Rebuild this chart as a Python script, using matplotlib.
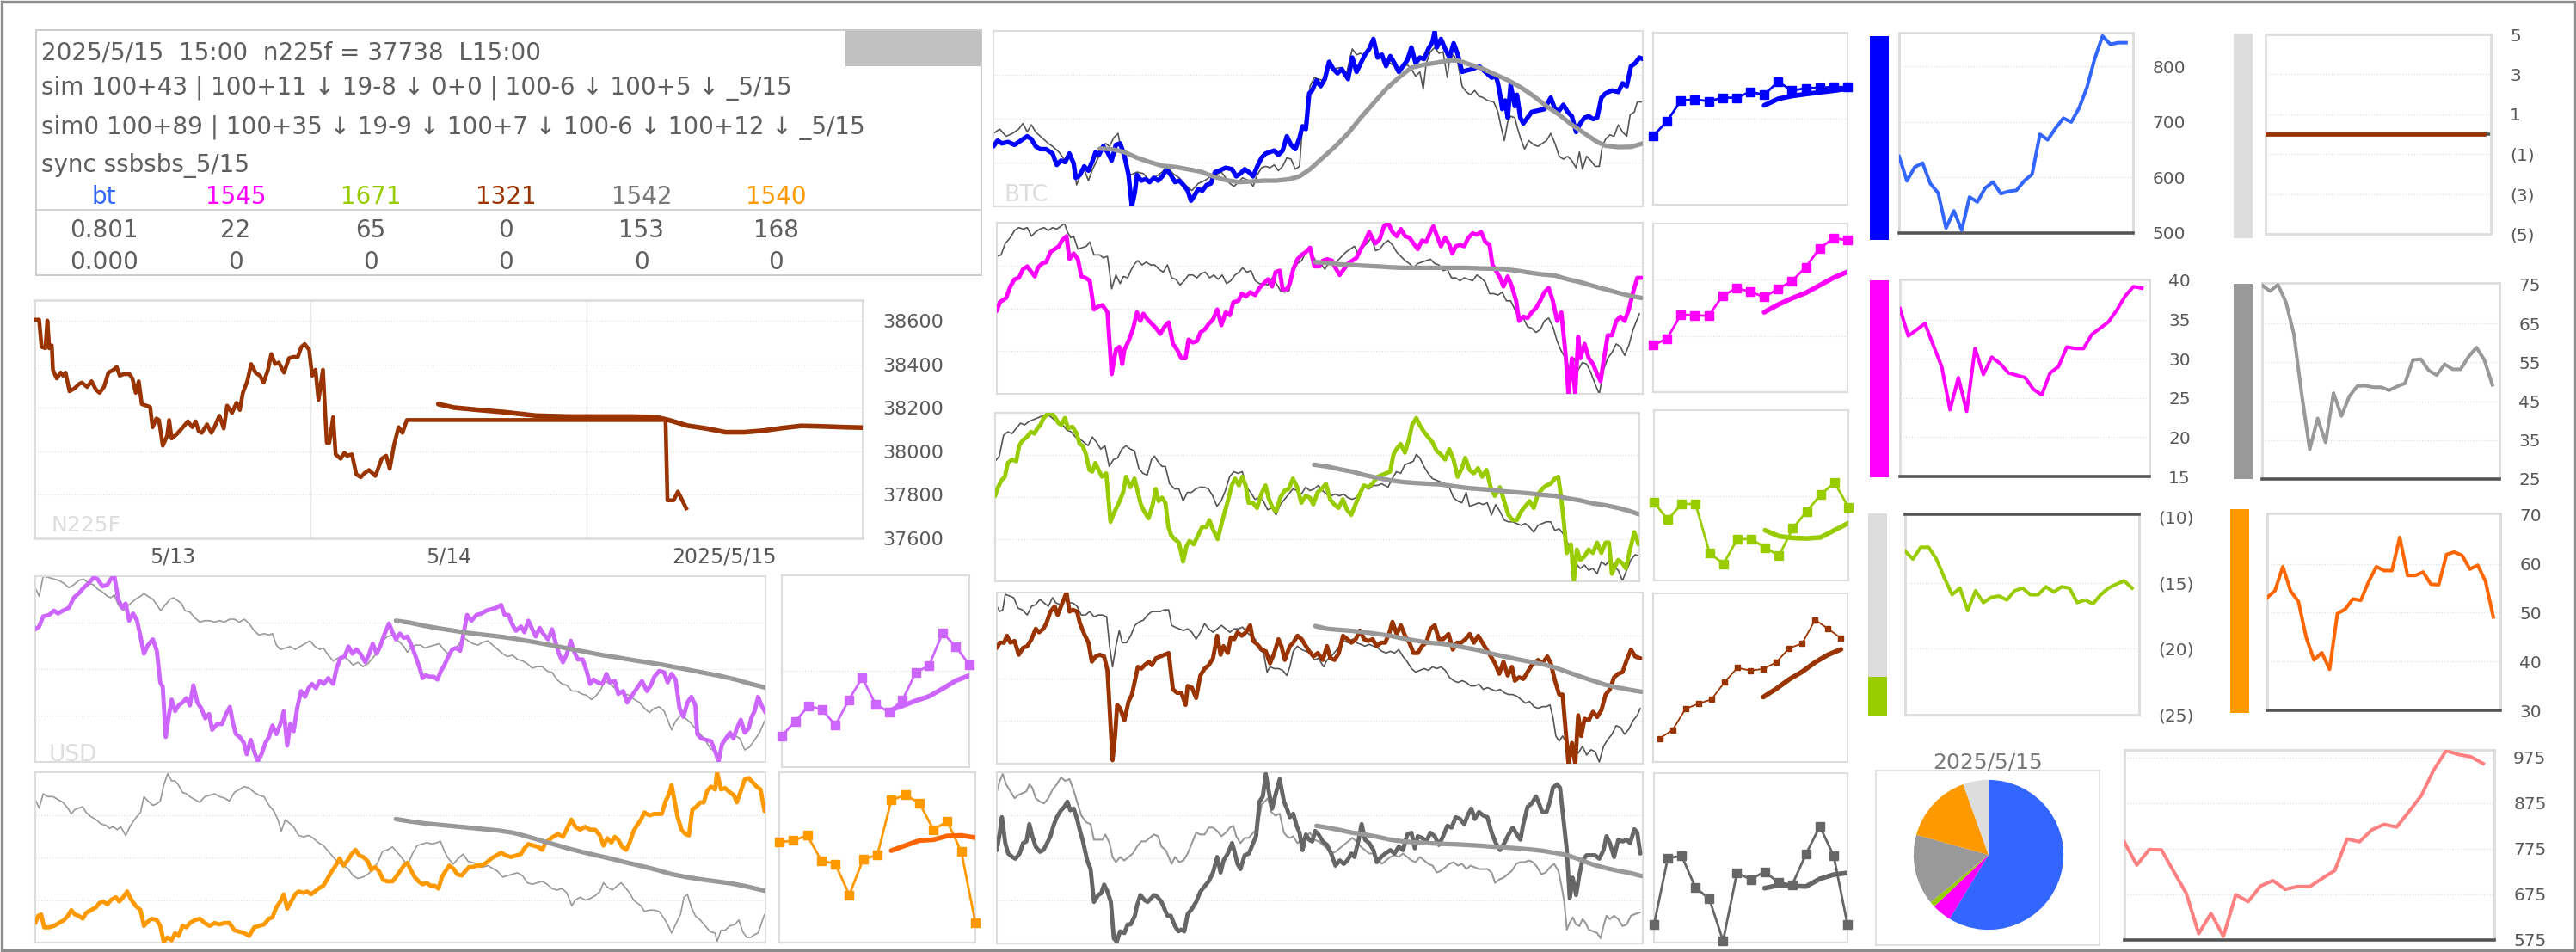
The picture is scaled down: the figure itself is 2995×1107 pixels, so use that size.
import numpy as np
import matplotlib
matplotlib.use("Agg")
import matplotlib.pyplot as plt
from matplotlib.patches import Rectangle

plt.rcParams['font.family'] = ['DejaVu Sans']

W, H = 2995, 1107
fig = plt.figure(figsize=(W / 100, H / 100), dpi=100)

TXT = '#5f5f5f'
TICK = '#595959'
FRAME = '#dddddd'
GRID = '#e0e0e0'
BASE = '#555555'

# ---------------------------------------------------------------- data
# header panel
header_date = "2025/5/15  15:00  n225f = 37738  L15:00"
sim_line = "sim 100+43 | 100+11 \u2193 19-8 \u2193 0+0 | 100-6 \u2193 100+5 \u2193 _5/15"
sim0_line = "sim0 100+89 | 100+35 \u2193 19-9 \u2193 100+7 \u2193 100-6 \u2193 100+12 \u2193 _5/15"
sync_line = "sync ssbsbs_5/15"
codes = ['bt', '1545', '1671', '1321', '1542', '1540']
code_colors = ['#3366ff', '#ff00ff', '#99cc00', '#993300', '#777777', '#ff9900']
row1 = ['0.801', '22', '65', '0', '153', '168']
row2 = ['0.000', '0', '0', '0', '0', '0']

# N225F, x in days from 5/13 00:00
n225_days = ['5/13', '5/14', '2025/5/15']
n225_line = [
    (0.001, 38605), (0.017, 38605), (0.026, 38480), (0.040, 38474), (0.047, 38601),
    (0.054, 38474), (0.063, 38487), (0.067, 38375), (0.081, 38335), (0.095, 38362),
    (0.104, 38348), (0.113, 38362), (0.127, 38276), (0.145, 38289), (0.161, 38309),
    (0.172, 38316), (0.191, 38296), (0.207, 38322), (0.223, 38283), (0.236, 38269),
    (0.252, 38296), (0.268, 38362), (0.287, 38375), (0.298, 38388), (0.309, 38348),
    (0.323, 38355), (0.344, 38355), (0.355, 38335), (0.367, 38269), (0.378, 38322),
    (0.389, 38217), (0.405, 38210), (0.419, 38204), (0.428, 38111), (0.442, 38151),
    (0.451, 38144), (0.465, 38026), (0.481, 38072), (0.488, 38144), (0.497, 38059),
    (0.515, 38078), (0.538, 38111), (0.556, 38138), (0.572, 38111), (0.584, 38138),
    (0.595, 38092), (0.606, 38085), (0.625, 38124), (0.641, 38085), (0.652, 38111),
    (0.670, 38164), (0.686, 38105), (0.698, 38210), (0.716, 38177), (0.732, 38223),
    (0.744, 38190), (0.755, 38269), (0.771, 38322), (0.785, 38401), (0.801, 38362),
    (0.817, 38348), (0.830, 38316), (0.846, 38375), (0.858, 38447), (0.872, 38401),
    (0.885, 38408), (0.904, 38362), (0.922, 38428), (0.938, 38434), (0.954, 38434),
    (0.967, 38480), (0.979, 38493), (0.995, 38467), (1.006, 38348), (1.018, 38375),
    (1.029, 38236), (1.045, 38375), (1.059, 38039), (1.068, 38039), (1.082, 38157),
    (1.091, 37986), (1.109, 37966), (1.123, 37993), (1.132, 37980), (1.150, 37986),
    (1.166, 37894), (1.182, 37881), (1.196, 37900), (1.212, 37914), (1.235, 37887),
    (1.258, 37966), (1.274, 37980), (1.287, 37920), (1.303, 38032), (1.319, 38111),
    (1.333, 38085), (1.349, 38144), (2.286, 38144), (2.293, 37775), (2.315, 37775),
    (2.331, 37815), (2.361, 37738)]
n225_proj = [
    (1.463, 38217), (1.520, 38201), (1.612, 38190), (1.703, 38180), (1.817, 38164),
    (1.932, 38160), (2.046, 38160), (2.160, 38160), (2.252, 38157), (2.297, 38144),
    (2.366, 38118), (2.434, 38105), (2.503, 38088), (2.571, 38088), (2.640, 38095),
    (2.708, 38107), (2.777, 38117), (2.845, 38115), (2.937, 38111), (3.000, 38109)]
n225_ticks = [37600, 37800, 38000, 38200, 38400, 38600]

# intraday panels: (time step, level) pairs, arbitrary level units
btc_span = (1538, 613)
btc_line = [
    (0, 210), (10, 230), (20, 220), (35, 225), (50, 215), (65, 230), (80, 245), (90, 235),
    (100, 210), (110, 200), (125, 200), (140, 185), (150, 145), (160, 160), (170, 155),
    (180, 185), (190, 150), (195, 100), (205, 110), (215, 140), (225, 125), (235, 160),
    (242, 190), (250, 180), (260, 210), (270, 190), (280, 160), (290, 215), (300, 220),
    (310, 180), (320, 110), (328, 0), (335, 50), (340, 110), (350, 90), (360, 95), (370, 85),
    (380, 100), (390, 90), (400, 105), (410, 130), (420, 110), (430, 85), (440, 90),
    (450, 75), (460, 55), (468, 20), (475, 35), (485, 60), (495, 55), (505, 75), (515, 80),
    (525, 120), (535, 125), (550, 135), (565, 130), (575, 105), (585, 115), (595, 130),
    (605, 120), (615, 105), (625, 140), (635, 170), (645, 185), (655, 190), (665, 195),
    (675, 180), (685, 195), (695, 245), (705, 215), (715, 200), (725, 240), (732, 280),
    (740, 270), (748, 395), (755, 405), (765, 440), (775, 420), (785, 445), (795, 505),
    (805, 480), (815, 465), (825, 480), (840, 445), (850, 520), (860, 470), (870, 500),
    (880, 530), (890, 550), (900, 585), (910, 520), (920, 530), (930, 490), (940, 525),
    (950, 500), (960, 470), (970, 490), (980, 510), (990, 555), (1000, 500), (1010, 520),
    (1020, 515), (1030, 550), (1040, 575), (1045, 610), (1050, 555), (1060, 585),
    (1070, 550), (1080, 520), (1090, 570), (1100, 530), (1110, 470), (1120, 475),
    (1135, 480), (1150, 490), (1165, 470), (1180, 450), (1190, 455), (1195, 430),
    (1200, 390), (1205, 340), (1212, 370), (1218, 310), (1225, 425), (1235, 350),
    (1240, 390), (1248, 310), (1255, 290), (1265, 310), (1275, 330), (1290, 335),
    (1305, 340), (1320, 380), (1330, 340), (1340, 335), (1350, 355), (1360, 330),
    (1370, 315), (1380, 260), (1390, 290), (1400, 310), (1410, 315), (1420, 305),
    (1430, 310), (1440, 380), (1450, 395), (1465, 405), (1480, 400), (1490, 430),
    (1500, 420), (1510, 490), (1520, 500), (1530, 520), (1538, 515)]
btc_ref = [
    (0, 255), (15, 270), (30, 245), (45, 255), (60, 270), (70, 290), (80, 260), (90, 285),
    (100, 260), (115, 240), (130, 220), (140, 210), (155, 190), (170, 160), (180, 190),
    (190, 150), (197, 75), (205, 105), (215, 130), (225, 90), (235, 130), (245, 160),
    (255, 190), (265, 220), (275, 210), (285, 240), (295, 255), (305, 180), (315, 135),
    (325, 110), (340, 120), (355, 115), (370, 90), (385, 105), (400, 120), (410, 140),
    (425, 115), (440, 100), (455, 75), (470, 55), (485, 80), (500, 90), (510, 100),
    (525, 110), (540, 120), (550, 100), (560, 80), (570, 70), (580, 85), (590, 100),
    (605, 90), (615, 70), (625, 110), (635, 135), (645, 140), (655, 135), (665, 145),
    (675, 125), (685, 140), (695, 170), (705, 165), (715, 130), (725, 140), (732, 280),
    (740, 285), (750, 420), (760, 450), (770, 445), (780, 440), (790, 490), (805, 480),
    (820, 485), (835, 455), (845, 520), (850, 550), (860, 530), (870, 535), (880, 525),
    (890, 560), (900, 590), (908, 535), (918, 520), (930, 505), (940, 500), (950, 490),
    (960, 480), (970, 485), (980, 495), (990, 480), (1000, 455), (1010, 470), (1018, 410),
    (1025, 500), (1035, 540), (1045, 555), (1055, 535), (1065, 540), (1075, 450),
    (1080, 510), (1090, 530), (1100, 500), (1110, 420), (1120, 400), (1130, 390),
    (1140, 405), (1150, 385), (1160, 380), (1170, 370), (1185, 365), (1195, 330),
    (1202, 280), (1210, 230), (1218, 295), (1225, 315), (1235, 310), (1240, 280),
    (1248, 240), (1258, 200), (1268, 230), (1280, 215), (1290, 210), (1300, 220),
    (1310, 230), (1320, 255), (1330, 220), (1340, 175), (1350, 165), (1360, 175),
    (1370, 160), (1380, 135), (1388, 190), (1395, 130), (1405, 175), (1415, 160),
    (1425, 140), (1435, 140), (1442, 210), (1450, 235), (1460, 250), (1470, 245),
    (1480, 285), (1490, 260), (1500, 245), (1508, 320), (1518, 330), (1525, 365),
    (1538, 365)]
btc_ma = [
    (252, 202), (280, 200), (310, 190), (340, 170), (370, 155), (400, 142), (430, 138),
    (460, 130), (490, 122), (520, 105), (550, 92), (580, 85), (610, 87), (640, 90),
    (670, 90), (700, 95), (725, 105), (750, 130), (780, 170), (810, 210), (840, 255),
    (870, 310), (900, 360), (930, 410), (960, 450), (990, 485), (1020, 495), (1050, 502),
    (1080, 510), (1100, 510), (1130, 495), (1160, 480), (1190, 460), (1220, 440),
    (1250, 415), (1280, 385), (1310, 350), (1340, 320), (1370, 285), (1400, 255),
    (1430, 225), (1450, 212), (1480, 207), (1510, 208), (1538, 220)]

mag_span = (1530, 596)
mag_line = [
    (0, 289), (7, 319), (22, 334), (32, 374), (42, 399), (52, 404), (62, 434), (72, 444),
    (82, 424), (90, 409), (97, 439), (107, 454), (117, 459), (127, 494), (137, 504),
    (147, 514), (154, 534), (165, 549), (172, 469), (182, 489), (192, 469), (200, 409),
    (210, 404), (220, 394), (230, 294), (240, 304), (250, 309), (262, 284), (272, 69),
    (282, 154), (290, 164), (297, 104), (302, 154), (312, 184), (322, 224), (332, 284),
    (340, 254), (347, 279), (357, 259), (367, 244), (377, 229), (387, 209), (397, 234),
    (407, 249), (417, 174), (427, 154), (437, 124), (447, 124), (454, 189), (464, 179),
    (474, 184), (482, 214), (492, 224), (502, 244), (512, 259), (522, 294), (532, 239),
    (542, 284), (552, 274), (560, 319), (572, 324), (580, 349), (590, 339), (600, 354),
    (612, 344), (622, 369), (632, 384), (642, 399), (652, 374), (660, 424), (670, 429),
    (677, 364), (687, 364), (694, 384), (702, 434), (712, 469), (722, 484), (732, 494),
    (742, 509), (752, 444), (764, 444), (772, 464), (782, 469), (794, 464), (802, 439),
    (812, 414), (822, 434), (832, 454), (842, 464), (852, 474), (862, 504), (872, 529),
    (882, 564), (890, 539), (897, 524), (907, 539), (917, 584), (927, 594), (937, 564),
    (947, 549), (957, 574), (967, 549), (977, 544), (987, 524), (997, 504), (1007, 534),
    (1017, 529), (1027, 564), (1034, 584), (1044, 544), (1052, 514), (1062, 544),
    (1072, 519), (1079, 489), (1087, 514), (1097, 519), (1107, 514), (1117, 544),
    (1127, 559), (1137, 554), (1147, 564), (1157, 529), (1167, 519), (1174, 449),
    (1182, 429), (1192, 404), (1200, 374), (1210, 409), (1220, 374), (1230, 324),
    (1237, 254), (1247, 269), (1257, 264), (1267, 284), (1277, 299), (1287, 324),
    (1297, 354), (1307, 369), (1317, 324), (1327, 254), (1337, 284), (1347, 139),
    (1354, 0), (1362, 124), (1370, 0), (1377, 199), (1382, 124), (1392, 174), (1402, 124),
    (1412, 104), (1422, 69), (1430, 44), (1437, 114), (1447, 204), (1457, 204),
    (1467, 254), (1477, 269), (1487, 254), (1497, 294), (1507, 354), (1517, 404),
    (1527, 404)]
mag_ref = [
    (0, 479), (10, 484), (20, 524), (32, 544), (42, 569), (52, 579), (62, 574), (72, 579),
    (82, 549), (92, 564), (102, 574), (112, 579), (122, 569), (132, 579), (142, 574),
    (152, 584), (160, 594), (167, 564), (175, 544), (182, 549), (192, 504), (202, 509),
    (212, 514), (220, 529), (230, 484), (244, 484), (252, 474), (262, 479), (272, 366),
    (282, 414), (292, 384), (300, 409), (310, 404), (317, 429), (327, 454), (334, 464),
    (344, 449), (354, 459), (364, 449), (374, 449), (384, 434), (394, 424), (404, 449),
    (414, 404), (424, 399), (434, 379), (444, 394), (454, 414), (464, 414), (474, 404),
    (484, 419), (494, 424), (504, 404), (514, 414), (524, 399), (534, 414), (544, 384),
    (554, 394), (564, 414), (574, 424), (582, 439), (592, 424), (602, 429), (612, 394),
    (622, 384), (632, 384), (642, 379), (652, 404), (662, 384), (672, 359), (682, 354),
    (692, 359), (702, 424), (712, 454), (722, 464), (732, 494), (740, 509), (747, 484),
    (757, 459), (767, 454), (777, 434), (787, 459), (797, 444), (807, 464), (817, 479),
    (827, 494), (837, 504), (847, 514), (857, 484), (867, 514), (877, 524), (887, 544),
    (897, 499), (907, 504), (917, 524), (927, 534), (937, 519), (947, 494), (957, 479),
    (967, 464), (977, 454), (987, 439), (997, 454), (1007, 459), (1017, 464), (1027, 469),
    (1037, 454), (1047, 449), (1057, 429), (1067, 434), (1077, 404), (1087, 404),
    (1097, 394), (1107, 404), (1117, 399), (1127, 394), (1137, 414), (1147, 404),
    (1157, 389), (1167, 349), (1177, 349), (1187, 344), (1197, 354), (1207, 324),
    (1217, 324), (1227, 294), (1237, 264), (1247, 264), (1257, 234), (1267, 229),
    (1277, 214), (1287, 224), (1297, 254), (1307, 264), (1317, 234), (1327, 184),
    (1337, 149), (1347, 124), (1357, 84), (1367, 124), (1377, 84), (1387, 109),
    (1397, 104), (1407, 74), (1417, 34), (1427, 0), (1437, 84), (1447, 124), (1457, 144),
    (1467, 174), (1477, 164), (1487, 134), (1497, 169), (1507, 224), (1522, 279)]
mag_ma = [
    (754, 459), (782, 456), (812, 451), (842, 449), (872, 446), (902, 444), (932, 441),
    (962, 439), (992, 439), (1022, 439), (1052, 439), (1082, 439), (1112, 439),
    (1142, 437), (1172, 436), (1202, 434), (1232, 429), (1262, 422), (1292, 416),
    (1322, 412), (1352, 399), (1382, 389), (1412, 376), (1442, 364), (1472, 352),
    (1502, 341), (1527, 334)]

grn_span = (1525, 487)
grn_line = [
    (0, 247), (7, 272), (15, 292), (23, 302), (30, 342), (40, 352), (50, 347), (57, 392),
    (65, 407), (75, 417), (85, 432), (93, 427), (100, 442), (107, 452), (115, 472),
    (123, 482), (133, 487), (143, 472), (150, 457), (157, 452), (165, 472), (173, 442),
    (183, 447), (193, 427), (200, 397), (207, 392), (215, 367), (223, 322), (230, 317),
    (237, 342), (245, 322), (253, 302), (263, 312), (273, 172), (283, 202), (293, 227),
    (303, 257), (310, 302), (320, 272), (330, 297), (337, 262), (345, 222), (353, 202),
    (363, 182), (373, 222), (380, 267), (387, 232), (395, 242), (403, 227), (410, 157),
    (417, 132), (425, 122), (435, 112), (445, 57), (453, 102), (460, 117), (470, 107),
    (480, 132), (490, 157), (500, 157), (507, 177), (515, 152), (527, 122), (537, 172),
    (545, 207), (553, 242), (560, 277), (568, 297), (577, 277), (585, 302), (593, 277),
    (600, 227), (610, 227), (620, 212), (630, 252), (640, 277), (647, 242), (655, 217),
    (665, 202), (675, 242), (685, 262), (695, 267), (705, 297), (715, 272), (725, 227),
    (735, 247), (745, 242), (753, 222), (763, 257), (773, 267), (783, 282), (793, 237),
    (803, 222), (813, 212), (823, 237), (833, 207), (843, 192), (853, 222), (863, 252),
    (873, 277), (883, 272), (893, 282), (905, 302), (915, 307), (925, 312), (935, 317),
    (943, 367), (950, 382), (960, 397), (970, 372), (980, 412), (987, 452), (997, 472),
    (1005, 452), (1015, 432), (1025, 417), (1035, 402), (1045, 377), (1055, 367),
    (1065, 352), (1075, 382), (1085, 352), (1095, 302), (1105, 327), (1113, 357),
    (1123, 322), (1133, 312), (1143, 327), (1153, 302), (1163, 322), (1173, 272),
    (1183, 247), (1195, 272), (1205, 232), (1215, 192), (1225, 177), (1235, 177),
    (1245, 202), (1255, 217), (1265, 232), (1275, 212), (1285, 252), (1295, 267),
    (1305, 277), (1315, 282), (1325, 297), (1333, 302), (1340, 242), (1347, 162),
    (1353, 82), (1363, 107), (1370, 0), (1377, 92), (1385, 62), (1395, 72), (1405, 92),
    (1415, 82), (1425, 112), (1435, 82), (1445, 112), (1453, 112), (1460, 22), (1467, 42),
    (1475, 62), (1485, 52), (1493, 37), (1503, 92), (1513, 142), (1523, 107)]
grn_ref = [
    (0, 347), (10, 362), (20, 422), (30, 432), (40, 427), (50, 442), (60, 457), (70, 452),
    (80, 462), (90, 467), (100, 472), (110, 477), (120, 482), (130, 477), (140, 467),
    (150, 457), (160, 452), (170, 437), (180, 432), (190, 417), (200, 412), (210, 402),
    (220, 392), (230, 417), (240, 402), (250, 382), (260, 392), (270, 332), (280, 352),
    (290, 357), (300, 382), (310, 392), (320, 382), (330, 377), (340, 327), (350, 312),
    (360, 307), (370, 352), (377, 362), (385, 347), (395, 332), (403, 332), (413, 282),
    (425, 267), (435, 267), (445, 232), (455, 257), (465, 257), (475, 267), (485, 272),
    (495, 272), (505, 267), (515, 247), (525, 217), (535, 232), (545, 262), (555, 302),
    (565, 317), (575, 312), (585, 317), (595, 272), (605, 257), (615, 237), (625, 242),
    (635, 232), (645, 207), (655, 212), (665, 192), (675, 222), (685, 237), (695, 252),
    (705, 267), (715, 262), (725, 252), (735, 272), (745, 262), (755, 267), (765, 277),
    (775, 262), (785, 252), (795, 247), (805, 252), (815, 247), (825, 252), (835, 242),
    (845, 237), (855, 242), (865, 262), (875, 272), (885, 267), (895, 277), (905, 277),
    (915, 282), (930, 272), (940, 297), (950, 317), (960, 312), (970, 337), (980, 342),
    (990, 347), (997, 367), (1005, 357), (1015, 332), (1025, 312), (1035, 297),
    (1045, 292), (1055, 287), (1065, 282), (1075, 272), (1085, 242), (1095, 232),
    (1105, 227), (1115, 257), (1123, 217), (1135, 222), (1145, 227), (1155, 222),
    (1165, 227), (1175, 192), (1185, 222), (1195, 202), (1205, 177), (1215, 172),
    (1225, 172), (1235, 167), (1245, 162), (1255, 167), (1265, 157), (1275, 142),
    (1285, 162), (1295, 167), (1305, 172), (1315, 172), (1325, 147), (1335, 152),
    (1345, 137), (1355, 112), (1365, 82), (1375, 52), (1385, 37), (1395, 47), (1405, 32),
    (1415, 37), (1425, 22), (1435, 57), (1445, 47), (1455, 62), (1465, 42), (1475, 32),
    (1485, 2), (1495, 32), (1505, 62), (1515, 77), (1523, 74)]
grn_ma = [
    (755, 337), (785, 332), (815, 324), (845, 317), (875, 307), (905, 299), (935, 292),
    (965, 287), (995, 284), (1025, 282), (1055, 280), (1085, 275), (1115, 270),
    (1145, 267), (1175, 264), (1205, 260), (1235, 257), (1265, 254), (1295, 250),
    (1325, 247), (1355, 240), (1385, 234), (1415, 225), (1445, 220), (1475, 212),
    (1505, 202), (1523, 194)]

brn_span = (1530, 495)
brn_line = [
    (0, 335), (7, 350), (17, 350), (24, 370), (32, 350), (42, 355), (52, 315), (62, 335),
    (72, 340), (82, 360), (92, 390), (100, 380), (110, 390), (117, 405), (127, 440),
    (137, 455), (144, 430), (152, 455), (160, 480), (165, 495), (172, 440), (180, 445),
    (190, 440), (197, 405), (207, 375), (217, 350), (225, 295), (234, 310), (244, 315),
    (254, 310), (262, 270), (274, 10), (280, 80), (285, 170), (292, 160), (302, 125),
    (312, 180), (320, 200), (327, 240), (334, 280), (342, 275), (350, 285), (360, 295),
    (367, 285), (377, 305), (387, 310), (397, 315), (407, 320), (417, 215), (427, 205),
    (437, 205), (447, 170), (452, 225), (462, 220), (472, 190), (482, 255), (492, 275),
    (502, 285), (512, 305), (522, 370), (530, 315), (537, 340), (547, 320), (554, 365),
    (562, 360), (570, 380), (580, 370), (590, 380), (600, 400), (607, 355), (617, 345),
    (627, 330), (637, 325), (647, 290), (657, 320), (667, 360), (674, 340), (682, 300),
    (694, 340), (702, 350), (712, 370), (722, 360), (732, 340), (740, 325), (750, 310),
    (760, 320), (772, 300), (782, 340), (790, 305), (800, 300), (810, 320), (820, 370),
    (830, 360), (840, 350), (850, 360), (860, 385), (870, 360), (880, 355), (890, 360),
    (900, 340), (910, 350), (920, 350), (930, 380), (937, 410), (947, 375), (957, 400),
    (967, 370), (977, 350), (987, 320), (997, 320), (1007, 340), (1017, 350), (1027, 390),
    (1037, 400), (1047, 360), (1057, 360), (1070, 375), (1080, 330), (1090, 350),
    (1100, 350), (1110, 360), (1120, 375), (1130, 350), (1140, 370), (1150, 350),
    (1160, 330), (1170, 310), (1180, 290), (1190, 260), (1200, 295), (1210, 255),
    (1220, 280), (1227, 240), (1237, 250), (1247, 245), (1257, 265), (1267, 285),
    (1282, 300), (1292, 290), (1304, 310), (1312, 290), (1322, 240), (1332, 200),
    (1340, 200), (1347, 100), (1354, 0), (1362, 60), (1370, 0), (1377, 140), (1384, 80),
    (1392, 130), (1402, 125), (1412, 150), (1422, 135), (1432, 155), (1442, 200),
    (1452, 215), (1462, 250), (1472, 260), (1482, 265), (1492, 300), (1502, 330),
    (1512, 310), (1524, 305)]
brn_ref = [
    (0, 455), (7, 440), (14, 445), (20, 490), (30, 485), (40, 480), (50, 450), (60, 445),
    (72, 430), (82, 455), (92, 460), (102, 475), (112, 465), (122, 455), (132, 480),
    (140, 465), (150, 460), (160, 475), (170, 465), (180, 465), (190, 455), (200, 430),
    (210, 430), (220, 440), (230, 425), (240, 430), (250, 430), (260, 425), (267, 340),
    (274, 280), (282, 340), (290, 385), (297, 350), (307, 350), (317, 370), (327, 400),
    (337, 410), (347, 415), (357, 430), (367, 440), (377, 440), (387, 440), (397, 445),
    (407, 445), (414, 400), (422, 395), (432, 390), (442, 385), (452, 390), (462, 380),
    (472, 360), (482, 380), (492, 405), (502, 390), (512, 380), (522, 390), (532, 400),
    (542, 390), (552, 380), (562, 390), (572, 390), (582, 395), (592, 380), (602, 370),
    (612, 360), (622, 330), (632, 320), (640, 265), (647, 280), (657, 275), (667, 275),
    (677, 270), (687, 255), (694, 280), (702, 325), (712, 340), (722, 330), (732, 325),
    (742, 320), (752, 300), (762, 305), (774, 280), (782, 300), (792, 310), (802, 325),
    (812, 340), (822, 355), (832, 350), (842, 360), (852, 350), (862, 345), (872, 340),
    (882, 345), (892, 340), (902, 335), (912, 325), (922, 320), (932, 325), (942, 320),
    (952, 330), (962, 310), (972, 295), (982, 275), (992, 265), (1002, 270), (1012, 275),
    (1022, 270), (1032, 280), (1042, 275), (1052, 280), (1062, 270), (1072, 250),
    (1082, 240), (1092, 235), (1102, 240), (1112, 235), (1122, 225), (1132, 225),
    (1142, 230), (1152, 215), (1162, 220), (1172, 215), (1182, 210), (1192, 215),
    (1202, 205), (1212, 200), (1222, 200), (1232, 195), (1242, 185), (1252, 175),
    (1262, 180), (1272, 165), (1282, 160), (1292, 165), (1302, 165), (1310, 170),
    (1317, 135), (1324, 80), (1332, 65), (1340, 80), (1347, 65), (1354, 45), (1362, 40),
    (1370, 45), (1377, 30), (1387, 50), (1397, 25), (1407, 40), (1417, 35), (1427, 5),
    (1437, 50), (1447, 70), (1457, 85), (1467, 110), (1477, 105), (1487, 85), (1497, 100),
    (1507, 125), (1517, 140), (1524, 160)]
brn_ma = [
    (754, 398), (782, 390), (812, 387), (842, 384), (872, 380), (902, 375), (932, 370),
    (962, 362), (992, 356), (1022, 350), (1052, 347), (1082, 342), (1112, 335),
    (1142, 328), (1172, 318), (1202, 310), (1232, 302), (1262, 295), (1292, 288),
    (1322, 278), (1352, 265), (1382, 252), (1412, 240), (1442, 228), (1472, 220),
    (1502, 213), (1527, 208)]

gry_span = (1530, 495)
gry_line = [
    (0, 270), (7, 320), (12, 365), (20, 290), (27, 260), (37, 250), (44, 245), (54, 260),
    (62, 290), (70, 295), (77, 345), (84, 310), (92, 280), (102, 265), (110, 270),
    (117, 285), (127, 310), (134, 340), (142, 365), (152, 385), (160, 395), (167, 410),
    (174, 385), (182, 390), (190, 360), (197, 325), (204, 295), (214, 240), (222, 215),
    (230, 120), (240, 140), (247, 145), (254, 170), (262, 150), (270, 120), (277, 15),
    (284, 5), (292, 35), (302, 30), (310, 55), (317, 55), (327, 80), (332, 110),
    (340, 140), (350, 125), (357, 120), (365, 130), (372, 140), (380, 135), (390, 120),
    (397, 100), (404, 80), (412, 80), (422, 50), (430, 35), (437, 40), (444, 35),
    (452, 85), (462, 100), (472, 120), (482, 150), (492, 165), (502, 180), (512, 205),
    (522, 250), (530, 205), (537, 240), (547, 260), (557, 290), (562, 270), (570, 230),
    (577, 215), (587, 255), (597, 260), (607, 290), (614, 310), (622, 410), (630, 425),
    (637, 490), (644, 440), (652, 390), (660, 430), (670, 475), (680, 410), (687, 390),
    (694, 365), (702, 375), (710, 340), (717, 320), (724, 270), (732, 315), (740, 300),
    (747, 295), (754, 325), (762, 315), (772, 295), (782, 285), (792, 260), (802, 225),
    (812, 240), (822, 230), (830, 240), (840, 260), (847, 250), (857, 300), (864, 345),
    (872, 300), (882, 290), (892, 270), (900, 235), (910, 250), (920, 260), (932, 270),
    (942, 260), (952, 280), (962, 270), (972, 315), (982, 320), (990, 275), (997, 310),
    (1007, 305), (1017, 295), (1027, 320), (1037, 310), (1047, 285), (1057, 310),
    (1067, 340), (1077, 335), (1087, 365), (1097, 360), (1107, 345), (1117, 375),
    (1124, 390), (1132, 360), (1142, 380), (1152, 370), (1162, 365), (1172, 320),
    (1182, 290), (1192, 270), (1202, 290), (1212, 315), (1222, 335), (1232, 315),
    (1240, 300), (1247, 345), (1257, 395), (1267, 405), (1277, 425), (1284, 405),
    (1292, 380), (1302, 380), (1310, 410), (1317, 450), (1327, 460), (1334, 450),
    (1342, 360), (1350, 270), (1357, 130), (1364, 190), (1372, 140), (1380, 200),
    (1387, 240), (1397, 255), (1407, 255), (1417, 255), (1427, 245), (1437, 270),
    (1444, 310), (1452, 290), (1462, 250), (1472, 300), (1482, 295), (1492, 300),
    (1500, 290), (1510, 330), (1517, 320), (1524, 260)]
gry_ref = [
    (0, 440), (7, 470), (14, 490), (22, 460), (32, 440), (42, 420), (52, 430), (62, 435),
    (70, 440), (77, 460), (84, 450), (92, 420), (102, 410), (112, 405), (122, 420),
    (132, 445), (142, 460), (152, 480), (162, 470), (172, 475), (180, 450), (190, 410),
    (200, 370), (212, 350), (222, 345), (230, 300), (240, 300), (250, 300), (257, 315),
    (267, 290), (274, 250), (282, 235), (292, 250), (302, 240), (312, 250), (322, 260),
    (332, 280), (342, 295), (352, 295), (362, 305), (372, 315), (382, 310), (390, 280),
    (400, 270), (407, 250), (414, 230), (422, 250), (432, 235), (442, 240), (452, 260),
    (462, 290), (472, 320), (482, 315), (492, 315), (502, 335), (512, 335), (522, 325),
    (532, 310), (542, 320), (552, 335), (560, 340), (567, 310), (577, 290), (587, 305),
    (597, 305), (607, 320), (617, 330), (627, 400), (634, 410), (642, 420), (650, 380),
    (660, 370), (670, 375), (680, 320), (687, 310), (694, 305), (702, 310), (712, 290),
    (722, 300), (732, 310), (742, 320), (752, 300), (762, 295), (772, 285), (782, 275),
    (792, 260), (802, 265), (812, 275), (822, 285), (832, 295), (842, 305), (852, 295),
    (862, 280), (872, 270), (882, 260), (892, 260), (902, 245), (912, 230), (922, 240),
    (932, 250), (942, 255), (952, 250), (962, 260), (972, 250), (982, 240), (992, 235),
    (1002, 250), (1012, 240), (1022, 230), (1032, 225), (1042, 205), (1052, 210),
    (1062, 220), (1072, 230), (1082, 235), (1092, 225), (1102, 230), (1112, 215),
    (1122, 225), (1132, 220), (1142, 215), (1152, 215), (1162, 215), (1172, 205),
    (1180, 175), (1190, 185), (1200, 190), (1210, 200), (1220, 210), (1230, 230),
    (1240, 235), (1250, 235), (1260, 240), (1270, 235), (1280, 220), (1290, 200),
    (1300, 205), (1310, 220), (1320, 230), (1330, 210), (1337, 170), (1344, 120),
    (1350, 40), (1357, 60), (1364, 75), (1372, 55), (1380, 50), (1387, 70), (1394, 60),
    (1402, 40), (1412, 35), (1422, 30), (1430, 15), (1437, 50), (1444, 80), (1452, 70),
    (1462, 80), (1472, 70), (1482, 50), (1492, 55), (1502, 80), (1512, 85), (1524, 90)]
gry_ma = [
    (757, 340), (782, 335), (812, 328), (842, 320), (872, 315), (902, 308), (932, 300),
    (962, 295), (992, 292), (1022, 290), (1052, 288), (1082, 287), (1112, 285),
    (1142, 283), (1172, 280), (1202, 278), (1232, 275), (1262, 272), (1292, 268),
    (1322, 262), (1352, 255), (1382, 242), (1412, 228), (1442, 218), (1472, 210),
    (1502, 203), (1527, 195)]

usd_span = (1478, 647)
usd_line = [
    (0, 462), (8, 472), (16, 507), (28, 512), (38, 527), (46, 517), (56, 527), (68, 537),
    (78, 572), (88, 587), (98, 607), (108, 622), (118, 642), (126, 637), (136, 612),
    (146, 617), (153, 637), (160, 647), (168, 567), (176, 537), (183, 552), (190, 492),
    (198, 517), (206, 492), (213, 437), (220, 377), (228, 407), (238, 427), (246, 387),
    (253, 277), (258, 262), (264, 87), (270, 157), (276, 217), (283, 177), (290, 197),
    (298, 207), (306, 222), (313, 197), (320, 267), (328, 207), (336, 187), (344, 152),
    (352, 167), (358, 112), (368, 132), (378, 132), (386, 167), (394, 192), (400, 137),
    (406, 97), (414, 87), (422, 67), (428, 27), (436, 77), (443, 37), (450, 2), (458, 27),
    (466, 67), (473, 87), (480, 127), (488, 97), (496, 132), (503, 177), (510, 57),
    (516, 132), (523, 107), (530, 187), (538, 247), (546, 227), (553, 257), (560, 272),
    (568, 257), (576, 282), (584, 272), (593, 292), (603, 272), (610, 327), (618, 362),
    (626, 367), (634, 402), (642, 377), (650, 392), (658, 377), (668, 347), (676, 377),
    (683, 412), (691, 377), (698, 402), (706, 442), (716, 482), (723, 452), (730, 427),
    (738, 447), (746, 432), (753, 437), (760, 412), (770, 367), (778, 327), (784, 292),
    (790, 302), (798, 297), (806, 297), (814, 287), (821, 317), (828, 337), (836, 367),
    (844, 392), (852, 397), (860, 387), (868, 457), (874, 512), (883, 492), (893, 512),
    (903, 517), (913, 527), (923, 532), (933, 537), (943, 547), (950, 512), (958, 512),
    (966, 477), (973, 457), (983, 472), (990, 452), (998, 492), (1006, 462), (1013, 437),
    (1021, 467), (1028, 447), (1038, 427), (1046, 462), (1053, 417), (1060, 377),
    (1068, 347), (1076, 377), (1084, 422), (1090, 387), (1098, 357), (1108, 357),
    (1116, 317), (1123, 272), (1130, 287), (1138, 277), (1148, 272), (1156, 307),
    (1163, 277), (1173, 282), (1180, 237), (1190, 247), (1198, 207), (1208, 232),
    (1218, 257), (1228, 282), (1238, 247), (1246, 267), (1253, 297), (1263, 317),
    (1273, 312), (1280, 277), (1288, 307), (1296, 287), (1304, 187), (1312, 157),
    (1320, 207), (1328, 227), (1336, 197), (1340, 97), (1348, 82), (1358, 77), (1368, 72),
    (1376, 37), (1383, 2), (1390, 62), (1398, 82), (1406, 102), (1413, 82), (1420, 117),
    (1428, 147), (1436, 102), (1444, 117), (1450, 157), (1456, 177), (1463, 227),
    (1470, 197), (1478, 172)]
usd_ref = [
    (0, 607), (8, 577), (16, 647), (28, 642), (38, 637), (48, 632), (58, 622), (68, 607),
    (78, 617), (88, 632), (98, 637), (108, 622), (118, 617), (126, 602), (136, 592),
    (146, 577), (153, 572), (160, 582), (168, 547), (178, 527), (186, 542), (193, 552),
    (203, 567), (213, 577), (220, 587), (228, 577), (238, 567), (246, 547), (254, 527),
    (263, 547), (273, 567), (280, 572), (288, 562), (296, 552), (303, 527), (313, 522),
    (323, 502), (333, 487), (343, 492), (353, 492), (363, 487), (373, 492), (383, 487),
    (393, 497), (403, 497), (413, 487), (423, 497), (433, 482), (443, 457), (453, 442),
    (463, 447), (473, 442), (480, 447), (488, 407), (496, 392), (506, 397), (516, 402),
    (526, 392), (536, 402), (546, 412), (556, 422), (566, 402), (576, 392), (583, 397),
    (593, 372), (603, 352), (613, 362), (623, 367), (633, 357), (643, 337), (653, 347),
    (663, 332), (673, 342), (683, 362), (693, 382), (703, 422), (713, 437), (723, 442),
    (730, 427), (738, 417), (746, 402), (753, 382), (760, 397), (770, 407), (780, 407),
    (788, 397), (798, 402), (808, 407), (818, 412), (826, 392), (836, 377), (844, 387),
    (852, 397), (860, 417), (868, 432), (876, 422), (886, 412), (896, 407), (906, 417),
    (916, 422), (926, 407), (936, 392), (946, 377), (956, 367), (966, 372), (976, 357),
    (986, 352), (996, 342), (1006, 327), (1016, 332), (1026, 332), (1036, 317),
    (1046, 312), (1056, 287), (1066, 272), (1076, 267), (1086, 247), (1096, 247),
    (1106, 237), (1116, 232), (1126, 217), (1133, 227), (1143, 247), (1153, 282),
    (1163, 272), (1173, 257), (1183, 247), (1193, 237), (1203, 232), (1213, 217),
    (1223, 207), (1233, 187), (1243, 172), (1253, 187), (1263, 192), (1273, 177),
    (1280, 147), (1288, 112), (1296, 142), (1306, 162), (1316, 152), (1326, 137),
    (1336, 117), (1346, 97), (1356, 77), (1366, 47), (1376, 37), (1383, 17), (1390, 52),
    (1398, 77), (1406, 87), (1416, 92), (1426, 82), (1436, 42), (1446, 52), (1456, 77),
    (1466, 102), (1476, 142)]
usd_ma = [
    (730, 492), (758, 485), (788, 474), (818, 465), (848, 457), (878, 449), (908, 443),
    (938, 437), (968, 430), (998, 421), (1028, 412), (1058, 402), (1088, 392),
    (1118, 382), (1148, 372), (1178, 364), (1208, 355), (1238, 347), (1268, 339),
    (1298, 329), (1328, 319), (1358, 309), (1388, 299), (1418, 287), (1448, 272),
    (1478, 259)]

org_span = (1478, 593)
org_line = [
    (0, 68), (6, 93), (12, 98), (18, 53), (28, 53), (38, 58), (48, 68), (58, 78), (66, 93),
    (73, 113), (80, 98), (88, 93), (96, 83), (103, 103), (113, 113), (123, 123),
    (130, 138), (138, 143), (146, 133), (153, 148), (163, 158), (170, 143), (178, 158),
    (186, 178), (193, 153), (203, 128), (213, 113), (220, 58), (228, 73), (236, 83),
    (246, 78), (253, 58), (260, 3), (268, 18), (276, 8), (283, 33), (290, 23), (298, 58),
    (306, 53), (313, 68), (323, 78), (333, 83), (343, 68), (353, 58), (363, 68), (373, 63),
    (383, 68), (393, 68), (403, 43), (413, 38), (423, 33), (433, 23), (443, 53), (453, 58),
    (463, 63), (473, 83), (480, 88), (488, 123), (496, 143), (503, 168), (510, 118),
    (518, 143), (526, 168), (533, 178), (543, 173), (550, 178), (558, 168), (566, 178),
    (573, 188), (583, 198), (590, 218), (600, 248), (608, 268), (616, 293), (624, 268),
    (633, 288), (640, 308), (648, 323), (656, 303), (664, 298), (673, 283), (680, 253),
    (688, 263), (696, 248), (704, 218), (713, 213), (723, 213), (730, 228), (738, 248),
    (746, 268), (753, 278), (760, 253), (768, 228), (776, 213), (784, 203), (792, 208),
    (800, 198), (808, 198), (816, 188), (823, 228), (830, 248), (838, 268), (846, 258),
    (854, 238), (863, 233), (870, 248), (878, 263), (886, 263), (894, 268), (903, 268),
    (913, 278), (923, 293), (933, 303), (943, 313), (953, 303), (963, 298), (973, 303),
    (983, 308), (990, 328), (998, 343), (1008, 338), (1018, 333), (1026, 323), (1033, 348),
    (1040, 358), (1048, 368), (1058, 378), (1068, 368), (1078, 403), (1085, 428),
    (1093, 403), (1103, 393), (1113, 403), (1123, 393), (1133, 393), (1143, 373),
    (1150, 338), (1158, 363), (1166, 348), (1173, 368), (1180, 358), (1188, 333),
    (1196, 323), (1203, 348), (1211, 388), (1218, 408), (1226, 428), (1233, 453),
    (1243, 443), (1253, 448), (1268, 448), (1276, 493), (1283, 518), (1288, 548),
    (1294, 493), (1300, 438), (1308, 393), (1316, 378), (1323, 373), (1330, 463),
    (1338, 473), (1346, 488), (1353, 488), (1360, 528), (1368, 543), (1376, 533),
    (1380, 593), (1388, 533), (1396, 538), (1406, 523), (1414, 513), (1420, 488),
    (1428, 528), (1436, 568), (1444, 573), (1452, 558), (1460, 543), (1468, 533),
    (1476, 458)]
org_ref = [
    (0, 498), (8, 468), (16, 518), (26, 508), (36, 508), (46, 498), (56, 488), (66, 468),
    (73, 448), (80, 463), (88, 468), (96, 473), (103, 453), (113, 438), (123, 428),
    (133, 413), (143, 408), (150, 398), (158, 403), (166, 393), (173, 403), (183, 373),
    (193, 408), (203, 433), (213, 453), (220, 508), (228, 493), (238, 478), (246, 483),
    (253, 493), (260, 548), (268, 588), (276, 563), (283, 563), (290, 548), (298, 523),
    (306, 518), (313, 508), (323, 498), (333, 488), (343, 508), (353, 513), (363, 518),
    (373, 508), (383, 503), (393, 493), (403, 523), (413, 533), (423, 543), (433, 538),
    (443, 523), (453, 513), (463, 508), (473, 478), (483, 458), (491, 428), (498, 388),
    (506, 428), (513, 418), (523, 403), (533, 373), (543, 368), (553, 373), (563, 363),
    (573, 348), (583, 338), (593, 318), (603, 298), (613, 278), (623, 268), (633, 258),
    (643, 233), (653, 223), (663, 228), (673, 238), (683, 253), (693, 278), (703, 318),
    (713, 323), (723, 333), (733, 313), (743, 293), (753, 268), (763, 308), (773, 338),
    (783, 343), (793, 348), (803, 343), (813, 348), (820, 353), (828, 318), (836, 293),
    (846, 273), (856, 293), (866, 308), (876, 283), (886, 278), (896, 273), (906, 263),
    (916, 268), (926, 258), (936, 248), (946, 228), (956, 233), (966, 238), (976, 243),
    (986, 233), (996, 208), (1006, 203), (1016, 208), (1026, 213), (1036, 203),
    (1046, 188), (1056, 183), (1066, 188), (1076, 173), (1086, 128), (1093, 148),
    (1103, 158), (1113, 148), (1123, 153), (1133, 163), (1143, 178), (1150, 208),
    (1158, 193), (1168, 183), (1178, 198), (1186, 208), (1196, 188), (1203, 173),
    (1211, 148), (1218, 138), (1226, 128), (1233, 108), (1243, 113), (1253, 113),
    (1263, 108), (1273, 83), (1280, 63), (1288, 33), (1296, 63), (1306, 98), (1313, 158),
    (1320, 168), (1328, 123), (1336, 93), (1346, 78), (1356, 58), (1366, 38), (1376, 33),
    (1380, 3), (1388, 43), (1396, 43), (1406, 58), (1416, 63), (1424, 78), (1432, 38),
    (1440, 18), (1448, 18), (1456, 28), (1463, 33), (1476, 98)]
org_ma = [
    (730, 430), (758, 422), (788, 415), (818, 410), (848, 405), (878, 400), (908, 395),
    (938, 390), (968, 382), (988, 373), (1018, 358), (1048, 343), (1078, 328),
    (1108, 315), (1138, 303), (1168, 291), (1198, 278), (1228, 266), (1258, 253),
    (1288, 238), (1318, 228), (1348, 220), (1378, 213), (1408, 206), (1438, 196),
    (1478, 180)]

# recent-session panels (15 sessions, % of panel range) and their trend (last 7)
btc_recent = [39.9, 48.5, 60.5, 61.2, 60.1, 62.2, 62.2, 65.6, 63.9, 71.5, 66.3, 67.7, 68.0, 68.4, 68.4]
btc_trend = [57.7, 61.5, 63.2, 64.3, 65.3, 66.3, 67.4]
mag_recent = [27.9, 31.7, 46.0, 45.6, 45.3, 57.1, 61.7, 59.6, 56.4, 61.3, 65.9, 74.2, 85.4, 91.3, 90.2]
mag_trend = [47.4, 51.9, 55.7, 58.9, 63.4, 67.9, 71.4]
grn_recent = [45.8, 35.8, 45.1, 44.8, 16.3, 9.7, 24.3, 24.3, 19.4, 14.6, 30.6, 40.6, 50.3, 57.6, 43.1]
grn_trend = [29.5, 26.0, 25.0, 24.7, 25.3, 29.5, 33.7]
brn_recent = [14.0, 18.9, 31.5, 34.6, 37.1, 47.2, 55.9, 54.2, 55.2, 59.1, 67.5, 70.3, 84.3, 79.0, 73.4]
brn_trend = [38.5, 43.4, 49.0, 53.5, 59.1, 63.6, 66.8]
gry_recent = [10.5, 49.8, 51.2, 32.4, 25.8, 1.0, 41.1, 37.3, 41.8, 35.5, 34.1, 52.3, 68.6, 51.2, 10.5]
gry_trend = [32.1, 33.8, 33.4, 33.1, 37.6, 40.1, 41.1]
usd_recent = [16.3, 23.9, 31.9, 30.1, 21.8, 35.1, 46.6, 32.8, 28.7, 34.9, 49.3, 53.0, 70.0, 62.8, 53.3]
usd_trend = [29.4, 31.9, 34.6, 36.9, 40.9, 45.1, 47.8]
org_recent = [58.9, 59.9, 62.9, 48.2, 46.2, 28.0, 49.1, 51.3, 83.6, 86.7, 82.0, 66.4, 71.0, 53.3, 11.8]
org_trend = [54.0, 57.0, 59.9, 60.4, 62.6, 62.9, 61.6]

# position level bars (share of full bar)
levels = {'bt': 1.0, '1545': 1.0, '1321': 0.0, '1542': 1.0, '1671': 0.19, '1540': 1.0}

# 30-session value charts
bt_vals = [638, 594, 619, 626, 589, 572, 509, 540, 505, 565, 556, 581, 592, 571, 575,
           577, 594, 606, 678, 668, 689, 707, 700, 725, 762, 814, 855, 840, 843, 843]
c1545_vals = [36.4, 32.9, 33.7, 34.5, 31.7, 29.0, 23.5, 27.6, 23.3, 31.3, 28.0, 30.2, 29.4, 28.2, 27.9,
              27.6, 26.1, 25.4, 28.2, 29.0, 31.5, 31.3, 31.3, 33.1, 33.9, 34.7, 36.2, 38.0, 39.2, 39.0]
c1321_vals = [0, 0, 0, 0, 0, 0, 0, 0, 0, 0, 0, 0, 0, 0, 0,
              0, 0, 0, 0, 0, 0, 0, 0, 0, 0, 0, 0, 0, 0, 0]
c1542_vals = [74.8, 73.3, 74.9, 70.5, 62.3, 46.7, 32.6, 40.6, 34.4, 47.1, 41.2, 46.3, 48.9, 49.0, 48.6,
              48.6, 47.8, 48.8, 49.6, 55.6, 55.8, 52.9, 51.7, 54.5, 53.2, 53.2, 56.4, 58.8, 55.6, 49.2]
c1671_vals = [-12.6, -13.2, -12.3, -12.3, -13.2, -14.6, -15.9, -15.4, -17.1, -15.6, -16.5, -16.1, -16.0,
              -16.3, -15.6, -15.4, -15.9, -15.9, -15.3, -15.7, -15.3, -15.4, -16.5, -16.3, -16.6,
              -15.9, -15.4, -15.1, -14.85, -15.4]
c1540_vals = [53.1, 54.5, 59.4, 54.4, 52.3, 44.9, 40.3, 41.8, 38.4, 49.8, 50.7, 52.8, 52.5, 56.3, 59.4,
              58.6, 58.6, 65.4, 57.6, 57.6, 58.3, 55.8, 55.7, 61.9, 62.4, 61.7, 58.9, 59.7, 56.4, 49.1]
total_vals = [789, 739, 773, 772, 724, 677, 589, 633, 583, 674, 659, 693, 705, 686, 692,
              692, 710, 727, 796, 790, 816, 828, 822, 856, 891, 947, 989, 981, 976, 961]

# allocation pie
pie_title = '2025/5/15'
pie_shares = [58.7, 4.2, 1.2, 0.0, 15.2, 15.2, 5.5]
pie_colors = ['#3366ff', '#ff00ff', '#99cc00', '#993300', '#999999', '#ff9900', '#dddddd']


# ---------------------------------------------------------------- helpers
def px_axes(x0, y0, x1, y1):
    return fig.add_axes([x0 / W, 1 - y1 / H, (x1 - x0) / W, (y1 - y0) / H])


def T(x, y, s, **kw):
    kw.setdefault('color', TXT)
    return fig.text(x / W, 1 - y / H, s, **kw)


def frame(ax, color=FRAME, lw=1.5):
    for sp in ax.spines.values():
        sp.set_color(color)
        sp.set_linewidth(lw)
    ax.set_xticks([])
    ax.set_yticks([])
    ax.set_facecolor('white')


def main_chart(box, span, line, ref, ma, color, ref_color='#555555', ref_lw=1.2,
               line_lw=3.5):
    ax = px_axes(*box)
    frame(ax)
    w, h = span
    for f in (0.25, 0.5, 0.75):
        ax.axhline(h * f, color=GRID, lw=0.9, ls=':', zorder=0)
    for pts, c, lw, z in ((ref, ref_color, ref_lw, 2), (line, color, line_lw, 3),
                          (ma, '#999999', 3.8, 4)):
        t, v = np.array(pts, dtype=float).T
        ax.plot(t, v, color=c, lw=lw, zorder=z, solid_joinstyle='round',
                solid_capstyle='round')
    ax.set_xlim(0, w)
    ax.set_ylim(0, h)
    return ax


def small_chart(box, recent, trend, color, trend_color=None, ms=7.2, lw=2.0,
                xlim=(0, 14), grid=()):
    ax = px_axes(*box)
    frame(ax)
    for g in grid:
        ax.axhline(g, color=GRID, lw=0.9, ls=':', zorder=0)
    i = np.arange(len(recent))
    ax.plot(i, recent, color=color, lw=lw, marker='s', ms=ms, clip_on=False, zorder=3)
    j = np.arange(len(recent) - len(trend), len(recent))
    ax.plot(j, trend, color=trend_color or color, lw=4.0, solid_capstyle='round', zorder=4)
    ax.set_xlim(*xlim)
    ax.set_ylim(0, 100)
    return ax


def paren(v):
    return f'({abs(v):g})' if v < 0 else f'{v:g}'


def side_chart(box, vals, color, ylim, ticks, grid, base='bottom', lw=2.9):
    ax = px_axes(*box)
    frame(ax, lw=2)
    for g in grid:
        ax.axhline(g, color=GRID, lw=0.9, ls=':', zorder=0)
    if base in ('bottom', 'top'):
        ax.spines[base].set_color(BASE)
        ax.spines[base].set_linewidth(2.6)
    elif base == 'zero':
        ax.axhline(0, color=BASE, lw=2.6, zorder=1)
    ax.plot(np.arange(len(vals)), vals, color=color, lw=lw, zorder=3,
            solid_joinstyle='round')
    ax.set_xlim(0, 29.9)
    ax.set_ylim(*ylim)
    ax.yaxis.tick_right()
    ax.set_yticks(ticks)
    ax.set_yticklabels([paren(t) for t in ticks])
    ax.tick_params(axis='y', length=0, pad=16, labelsize=14.5, labelcolor=TICK)
    return ax


def level_bar(box, level, color, bg='#dddddd'):
    ax = px_axes(*box)
    ax.axis('off')
    ax.bar(0, 1, width=1, color=bg)
    ax.bar(0, level, width=1, color=color)
    ax.set_xlim(-0.5, 0.5)
    ax.set_ylim(0, 1)


# ---------------------------------------------------------------- header panel
hdr = px_axes(42, 35, 1141, 320)
frame(hdr, color='#cccccc', lw=1.4)
hdr.set_xlim(42, 1141)
hdr.set_ylim(320, 35)
hdr.add_patch(Rectangle((983, 35), 158, 42, color='#c0c0c0', lw=0))
hdr.plot([42, 1141], [244, 244], color='#cccccc', lw=1.2)

T(48, 70, header_date, fontsize=20, va='baseline')
T(48, 110, sim_line, fontsize=20, va='baseline')
T(48, 156, sim0_line, fontsize=20, va='baseline')
T(48, 200, sync_line, fontsize=20, va='baseline')
col_x = [121, 274, 431, 588, 746, 902]
for x, c, col, a, b in zip(col_x, codes, code_colors, row1, row2):
    T(x, 237, c, fontsize=20, va='baseline', ha='center', color=col)
    T(x, 276, a, fontsize=20, va='baseline', ha='center')
    T(x, 313, b, fontsize=20, va='baseline', ha='center')

# ---------------------------------------------------------------- N225F
ax = px_axes(40, 349, 1003, 626)
frame(ax, lw=2)
for v in n225_ticks[1:]:
    ax.axhline(v, color=GRID, lw=0.9, ls=':', zorder=0)
for d in (1, 2):
    ax.axvline(d, color='#e8e8e8', lw=1, zorder=0)
t, v = np.array(n225_line, dtype=float).T
ax.plot(t, v, color='#993300', lw=3.3, solid_joinstyle='round', zorder=3)
t, v = np.array(n225_proj, dtype=float).T
ax.plot(t, v, color='#993300', lw=4.0, solid_capstyle='round', zorder=3)
ax.set_xlim(0, 3)
ax.set_ylim(37600, 38695)
ax.yaxis.tick_right()
ax.set_yticks(n225_ticks)
ax.set_yticklabels([str(x) for x in n225_ticks])
ax.set_xticks([0.5, 1.5, 2.5])
ax.set_xticklabels(n225_days)
ax.tick_params(axis='y', length=0, pad=17, labelsize=16, labelcolor=TICK)
ax.tick_params(axis='x', length=0, pad=7, labelsize=17, labelcolor=TICK)
T(59, 618, 'N225F', fontsize=18, color='#dddddd', va='baseline')

# ---------------------------------------------------------------- intraday panels
main_chart((41, 670, 890, 886), usd_span, usd_line, usd_ref, usd_ma, '#cc66ff',
           ref_color='#999999')
T(57, 885, 'USD', fontsize=19, color='#dddddd', va='baseline')
main_chart((41, 898, 890, 1096), org_span, org_line, org_ref, org_ma, '#ff9900',
           ref_color='#999999')
main_chart((1155, 36, 1910, 240), btc_span, btc_line, btc_ref, btc_ma, '#0000ff',
           line_lw=3.8)
T(1167, 234, 'BTC', fontsize=19, color='#dddddd', va='baseline')
main_chart((1159, 259, 1910, 458), mag_span, mag_line, mag_ref, mag_ma, '#ff00ff')
main_chart((1157, 480, 1906, 676), grn_span, grn_line, grn_ref, grn_ma, '#99cc00')
main_chart((1159, 689, 1910, 888), brn_span, brn_line, brn_ref, brn_ma, '#993300')
main_chart((1159, 898, 1910, 1097), gry_span, gry_line, gry_ref, gry_ma, '#666666',
           ref_color='#999999', ref_lw=1.5)

# ---------------------------------------------------------------- recent sessions
small_chart((909, 669, 1127, 892), usd_recent, usd_trend, '#cc66ff', grid=[50.3])
small_chart((906, 898, 1134, 1096), org_recent, org_trend, '#ff9900', trend_color='#ff6600')
small_chart((1922, 38, 2148, 238), btc_recent, btc_trend, '#0000ff', grid=[50])
small_chart((1922, 260, 2148, 456), mag_recent, mag_trend, '#ff00ff', grid=[33.4, 66.9])
small_chart((1923, 477, 2149, 675), grn_recent, grn_trend, '#99cc00', grid=[49.3])
small_chart((1922, 690, 2148, 886), brn_recent, brn_trend, '#993300', ms=4.6, lw=1.3,
            xlim=(-0.5, 14.5))
small_chart((1923, 899, 2148, 1096), gry_recent, gry_trend, '#666666')

# ---------------------------------------------------------------- right block
level_bar((2174, 42, 2196, 279), levels['bt'], '#0000ff')
side_chart((2208, 38, 2480, 271), bt_vals, '#3366ff', (500, 861), [500, 600, 700, 800],
           [600, 700, 800])
level_bar((2597, 39, 2619, 277), levels['1321'], '#993300')
side_chart((2634, 40, 2896, 272), c1321_vals, '#993300', (-5, 5), [-5, -3, -1, 1, 3, 5],
           [-3, -1, 1, 3], base='zero', lw=3.4)
level_bar((2174, 326, 2196, 555), levels['1545'], '#ff00ff')
side_chart((2209, 325, 2499, 554), c1545_vals, '#ff00ff', (15, 40.1),
           [15, 20, 25, 30, 35, 40], [20, 25, 30, 35])
level_bar((2597, 330, 2619, 557), levels['1542'], '#999999')
side_chart((2630, 329, 2906, 557), c1542_vals, '#999999', (25, 75.4),
           [25, 35, 45, 55, 65, 75], [35, 45, 55, 65])
level_bar((2172, 597, 2194, 832), levels['1671'], '#99cc00')
side_chart((2215, 598, 2487, 831), c1671_vals, '#99cc00', (-25, -9.8),
           [-25, -20, -15, -10], [-20, -15], base='top')
level_bar((2593, 592, 2615, 829), levels['1540'], '#ff9900')
side_chart((2636, 597, 2907, 826), c1540_vals, '#ff6600', (30, 70.3),
           [30, 40, 50, 60, 70], [40, 50, 60])
side_chart((2470, 872, 2900, 1093), total_vals, '#ff8080', (575, 991),
           [575, 675, 775, 875, 975], [675, 775, 875, 975])

# pie
box = px_axes(2181, 896, 2441, 1099)
frame(box, lw=1.2)
T(2311, 886, pie_title, fontsize=18, ha='center', va='center', color='#777777')
pax = px_axes(2224, 906, 2400, 1082)
shares = [s for s in pie_shares if s > 0]
cols = [c for s, c in zip(pie_shares, pie_colors) if s > 0]
pax.pie(shares, colors=cols, startangle=90, counterclock=False,
        wedgeprops=dict(linewidth=0))
pax.set_aspect('equal')
pax.set_xlim(-1.01, 1.01)
pax.set_ylim(-1.01, 1.01)

# outer border
fig.add_artist(Rectangle((1.5 / W, 2.5 / H), (W - 3) / W, (H - 4) / H,
                         transform=fig.transFigure, fill=False, ec='#8c8c8c', lw=2.4))

fig.savefig('out.png', dpi=100, facecolor='white')
